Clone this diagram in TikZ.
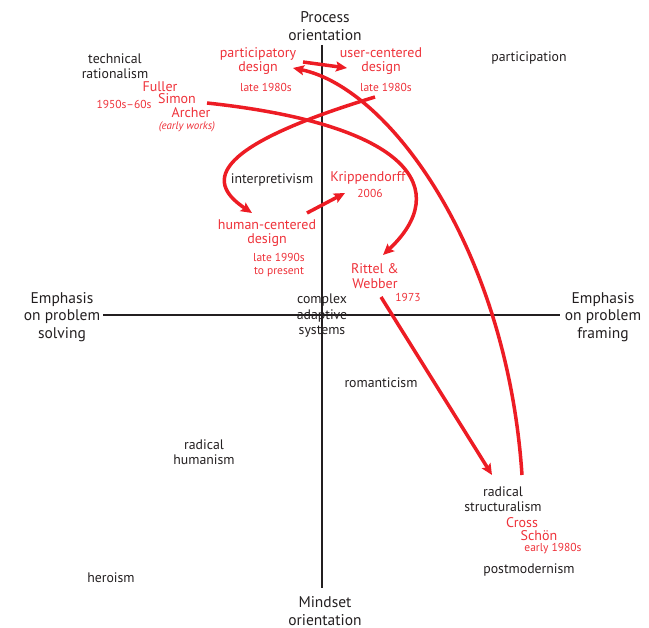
\documentclass[tikz,border=0pt]{standalone}
\usepackage{fontspec}
\setmainfont{PT Sans}
\usetikzlibrary{arrows.meta}
\definecolor{rd}{RGB}{237,28,36}
\definecolor{rdt}{RGB}{238,50,58}
\definecolor{ink}{RGB}{35,31,32}
\begin{document}
\begin{tikzpicture}[x=1pt,y=-1pt,
  big/.style={font=\fontsize{15.5}{17.5}\selectfont, align=center, text=ink, inner sep=0pt},
  lbl/.style={font=\fontsize{13.8}{15.5}\selectfont, align=center, text=ink, inner sep=0pt},
  rl/.style={font=\fontsize{14}{14.5}\selectfont, align=center, text=rdt, inner sep=0pt},
  rs/.style={font=\fontsize{11.5}{13}\selectfont, align=center, text=rdt, inner sep=0pt},
  axis/.style={line width=1.5pt, ink},
  arr/.style={line width=3.5pt, rd, -{Stealth[length=11pt,width=10pt,inset=2pt]}}]
\useasboundingbox (0,0) rectangle (649,628);
% axes
\coordinate (vt) at (322,45);
\coordinate (vb) at (322,588);
\coordinate (hl) at (103,315);
\coordinate (hr) at (560,315);
\draw[axis] (vt) -- (vb);
\draw[axis] (hl) -- (hr);
% axis labels
\node[big] (proc) at (325,26) {Process\\orientation};
\node[big] (mind) at (325,611) {Mindset\\orientation};
\node[big] (solv) at (62,317) {Emphasis\\on problem\\solving};
\node[big] (fram) at (603,317) {Emphasis\\on problem\\framing};
% black labels
\node[lbl] (tech) at (115,66) {technical\\rationalism};
\node[lbl] (part) at (529,58) {participation};
\node[lbl] (interp) at (272,180) {interpretivism};
\node[lbl] (cas) at (322,316) {complex\\adaptive\\systems};
\node[lbl] (rom) at (381,383) {romanticism};
\node[lbl] (rh) at (204,452) {radical\\humanism};
\node[lbl] (hero) at (111,578) {heroism};
\node[lbl] (rstr) at (503,499) {radical\\structuralism};
\node[lbl] (pm) at (529,570) {postmodernism};
% red labels
\node[rl] (pd) at (258,61) {participatory\\design};
\node[rl] (ucd) at (381,61) {user-centered\\design};
\node[rs] (pdd) at (266,87) {late 1980s};
\node[rs] (ucdd) at (386,87) {late 1980s};
\node[rl] (fuller) at (160,87) {Fuller};
\node[rs] (fd) at (124,104) {1950s–60s};
\node[rl] (simon) at (177,99) {Simon};
\node[rl] (archer) at (191,113) {Archer};
\node[rs, font=\fontsize{11}{13}\selectfont\itshape] (ew) at (187,127) {(early works)};
\node[rl] (kripp) at (368,178) {Krippendorff};
\node[rs] (kd) at (370,193) {2006};
\node[rl] (hcd) at (267,233) {human-centered\\design};
\node[rs] (hcdd) at (279,265) {late 1990s\\to present};
\node[rl] (rw) at (375,276) {Rittel \&\\Webber};
\node[rs] (rwd) at (408,297) {1973};
\node[rl] (cross) at (522,523) {Cross};
\node[rl] (schon) at (539,536) {Schön};
\node[rs] (ed) at (553,549) {early 1980s};
% arrow endpoints
\coordinate (a1s) at (303,62);  \coordinate (a1e) at (347,68);
\coordinate (a2s) at (522,475); \coordinate (a2e) at (293,68);
\coordinate (a3s) at (375,97);  \coordinate (a3e) at (252,213);
\coordinate (a4s) at (307,213); \coordinate (a4e) at (345,193);
\coordinate (a5s) at (207,103); \coordinate (a5e) at (383,255);
\coordinate (a6s) at (381,297); \coordinate (a6e) at (492,475);
% arrows
\draw[arr] (a1s) -- (a1e);
\draw[arr] (a2s) .. controls (507,250) and (390,88) .. (a2e);
\draw[arr] (a3s) .. controls (200,150) and (210,185) .. (a3e);
\draw[arr] (a4s) -- (a4e);
\draw[arr] (a5s) .. controls (412,125) and (452,190) .. (a5e);
\draw[arr] (a6s) -- (a6e);
\end{tikzpicture}
\end{document}
